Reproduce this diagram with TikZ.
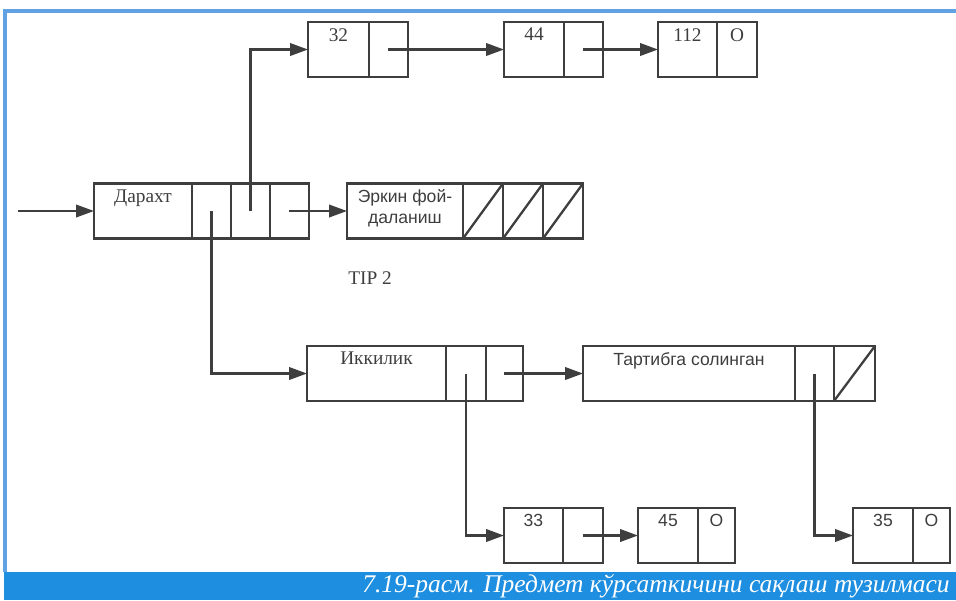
\documentclass[tikz,border=0pt]{standalone}
\usepackage{fontspec}
\setmainfont{Liberation Serif}
\newfontfamily\sansfont{Liberation Sans}
\usetikzlibrary{arrows.meta,positioning}
\definecolor{linea}{RGB}{62,62,62}
\definecolor{marco}{RGB}{96,162,228}
\definecolor{banda}{RGB}{30,142,224}

\begin{document}
\begin{tikzpicture}[x=0.02cm, y=-0.02cm, >={Triangle[length=0.36cm,width=0.25cm]},
    celda/.style={draw=linea, line width=1.3pt, minimum height=1.1cm, inner sep=0pt, outer sep=0pt, anchor=west},
    ptr/.style={celda, minimum width=0.78cm},
    txt/.style={text=linea, font=\fontsize{11}{13}\selectfont},
    txts/.style={text=linea, font=\sansfont\fontsize{10}{12}\selectfont, align=center},
    rotulo/.style={label={[txt, anchor=north]north:#1}},
    rotulos/.style={label={[txts, anchor=north]north:{#1}}},
    flecha/.style={->, draw=linea, line width=1.3pt}]
    \useasboundingbox (0,0) rectangle (956,600);

    % Marco y pie de figura
    \draw[marco, line width=2pt] (5,572) -- (5,11) -- (956,11);
    \fill[banda] (4,572) rectangle (956,600);
    \node[anchor=east, text=white, font=\itshape\fontsize{14.5}{16}\selectfont, inner sep=0pt] (pie) at (950,586)
        {7.19-расм. Предмет кўрсаткичини сақлаш тузилмаси};

    % Registro "Дарахт" y lista libre
    \coordinate (in) at (18,211);
    \node[celda, minimum width=1.96cm, rotulo=Дарахт] (d0) at (94,211) {};
    \node[ptr, right=0pt of d0] (d1) {};
    \node[ptr, right=0pt of d1] (d2) {};
    \node[ptr, right=0pt of d2] (d3) {};

    \node[celda, minimum width=2.32cm, rotulos={Эркин фой-\\даланиш}] (e0) at (347,211) {};
    \node[ptr, minimum width=0.8cm, right=0pt of e0] (e1) {};
    \node[ptr, minimum width=0.8cm, right=0pt of e1] (e2) {};
    \node[ptr, minimum width=0.8cm, right=0pt of e2] (e3) {};
    \node[txt] (tip) at (370,278) {TIP 2};

    % Fila superior: 32, 44, 112
    \node[celda, minimum width=1.22cm, rotulo=32] (a0) at (308,49.5) {};
    \node[ptr, right=0pt of a0] (a1) {};
    \node[celda, minimum width=1.2cm, rotulo=44] (b0) at (504,49.5) {};
    \node[ptr, right=0pt of b0] (b1) {};
    \node[celda, minimum width=1.18cm, rotulo=112] (c0) at (658,49.5) {};
    \node[ptr, minimum width=0.8cm, right=0pt of c0, rotulo=O] (c1) {};

    % Fila central: "Иккилик" y "Тартибга солинган"
    \node[celda, minimum width=2.78cm, rotulo=Иккилик] (i0) at (307,373.5) {};
    \node[ptr, minimum width=0.8cm, right=0pt of i0] (i1) {};
    \node[ptr, minimum width=0.74cm, right=0pt of i1] (i2) {};
    \node[celda, minimum width=4.24cm, rotulos=Тартибга солинган] (t0) at (583,373.5) {};
    \node[ptr, right=0pt of t0] (t1) {};
    \node[ptr, minimum width=0.82cm, right=0pt of t1] (t2) {};

    % Fila inferior: 33, 45, 35
    \node[celda, minimum width=1.18cm, rotulos=33] (g0) at (504,535.5) {};
    \node[ptr, minimum width=0.8cm, right=0pt of g0] (g1) {};
    \node[celda, minimum width=1.2cm, rotulos=45] (h0) at (638,535.5) {};
    \node[ptr, minimum width=0.74cm, right=0pt of h0, rotulos=O] (h1) {};
    \node[celda, minimum width=1.2cm, rotulos=35] (k0) at (853,535.5) {};
    \node[ptr, minimum width=0.74cm, right=0pt of k0, rotulos=O] (k1) {};

    % Celdas vacías (tachadas)
    \foreach \c in {e1, e2, e3, t2}
        \draw[linea, line width=1.3pt] (\c.south west) -- (\c.north east);

    % Punteros
    \draw[flecha] (in) -- (d0.west);
    \draw[flecha] (d2.center) |- (a0.west);
    \draw[flecha] (d1.center) |- (i0.west);
    \draw[flecha] (d3.center) -- (e0.west);
    \draw[flecha] (a1.center) -- (b0.west);
    \draw[flecha] (b1.center) -- (c0.west);
    \draw[flecha] (i1.center) |- (g0.west);
    \draw[flecha] (i2.center) -- (t0.west);
    \draw[flecha] (t1.center) |- (k0.west);
    \draw[flecha] (g1.center) -- (h0.west);

\end{tikzpicture}
\end{document}
